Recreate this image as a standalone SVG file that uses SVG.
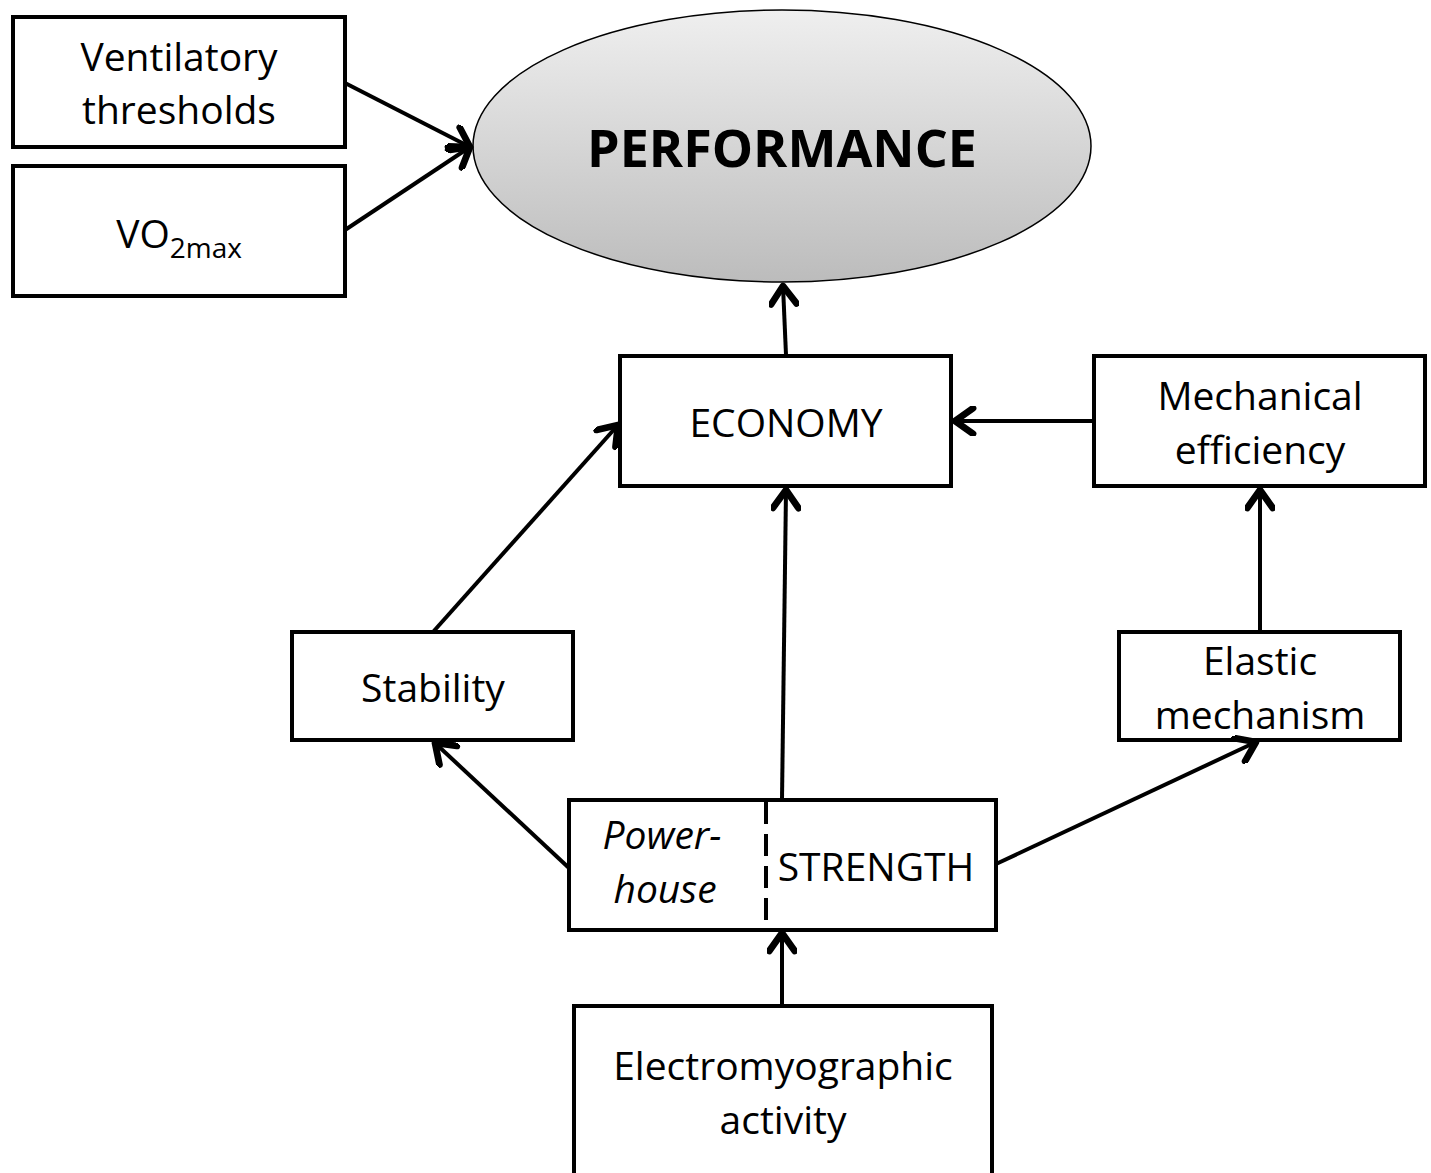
<svg xmlns="http://www.w3.org/2000/svg" width="1431" height="1173" viewBox="0 0 1431 1173">
<defs>
<linearGradient id="g" x1="0" y1="0" x2="0" y2="1">
<stop offset="0" stop-color="#efefef"/>
<stop offset="1" stop-color="#bcbcbc"/>
</linearGradient>
<marker id="ah" markerUnits="userSpaceOnUse" markerWidth="30" markerHeight="30" viewBox="-16 -10 20 20" refX="0" refY="0" orient="auto">
<path d="M-12,-8.5 L0,0 L-12,8.5" fill="none" stroke="#000" stroke-width="4.5" stroke-linecap="round" stroke-linejoin="round"/>
</marker>
<style>
.box{fill:#fff;stroke:#000;stroke-width:4}
.t{font-family:"Open Sans","Liberation Sans",sans-serif;font-size:39px;fill:#000;text-anchor:middle}
.c{fill:none;stroke:#000;stroke-width:4;marker-end:url(#ah)}
</style>
</defs>
<rect width="1431" height="1173" fill="#fff"/>
<g id="performance">
<ellipse cx="782" cy="146" rx="309" ry="136" fill="url(#g)" stroke="#000" stroke-width="1.5"/>
<text class="t" x="782" y="167" style="font-weight:bold;font-size:52px">PERFORMANCE</text>
</g>
<g id="ventilatory">
<rect class="box" x="13" y="17" width="332" height="130"/>
<text class="t" x="179" y="71">Ventilatory</text>
<text class="t" x="179" y="124">thresholds</text>
</g>
<g id="vo2max">
<rect class="box" x="13" y="166" width="332" height="130"/>
<text class="t" x="179" y="248">VO<tspan font-size="28" dy="10">2max</tspan></text>
</g>
<g id="economy">
<rect class="box" x="620" y="356" width="331" height="130"/>
<text class="t" x="786" y="437">ECONOMY</text>
</g>
<g id="mechanical">
<rect class="box" x="1094" y="356" width="331" height="130"/>
<text class="t" x="1260" y="410">Mechanical</text>
<text class="t" x="1260" y="464">efficiency</text>
</g>
<g id="stability">
<rect class="box" x="292" y="632" width="281" height="108"/>
<text class="t" x="433" y="702">Stability</text>
</g>
<g id="elastic">
<rect class="box" x="1119" y="632" width="281" height="108"/>
<text class="t" x="1260" y="675">Elastic</text>
<text class="t" x="1260" y="729">mechanism</text>
</g>
<g id="strength">
<rect class="box" x="569" y="800" width="427" height="130"/>
<line x1="766" y1="802" x2="766" y2="928" stroke="#000" stroke-width="4" stroke-dasharray="22,10"/>
<text class="t" x="662" y="849" font-style="italic">Power-</text>
<text class="t" x="665" y="903" font-style="italic">house</text>
<text class="t" x="876" y="881">STRENGTH</text>
</g>
<g id="emg">
<rect class="box" x="574" y="1006" width="418" height="170"/>
<text class="t" x="783" y="1080">Electromyographic</text>
<text class="t" x="783" y="1134">activity</text>
</g>
<g id="connectors">
<line class="c" x1="345" y1="83" x2="470" y2="147"/>
<line class="c" x1="345" y1="230" x2="470" y2="147"/>
<line class="c" x1="786" y1="355" x2="783" y2="286"/>
<line class="c" x1="1094" y1="421" x2="955" y2="421"/>
<line class="c" x1="1260" y1="631" x2="1260" y2="490"/>
<line class="c" x1="433" y1="632" x2="618" y2="425"/>
<line class="c" x1="782" y1="800" x2="786" y2="490"/>
<line class="c" x1="569" y1="868" x2="435" y2="743"/>
<line class="c" x1="996" y1="864" x2="1256" y2="742"/>
<line class="c" x1="782" y1="1005" x2="782" y2="933"/>
</g>
</svg>
